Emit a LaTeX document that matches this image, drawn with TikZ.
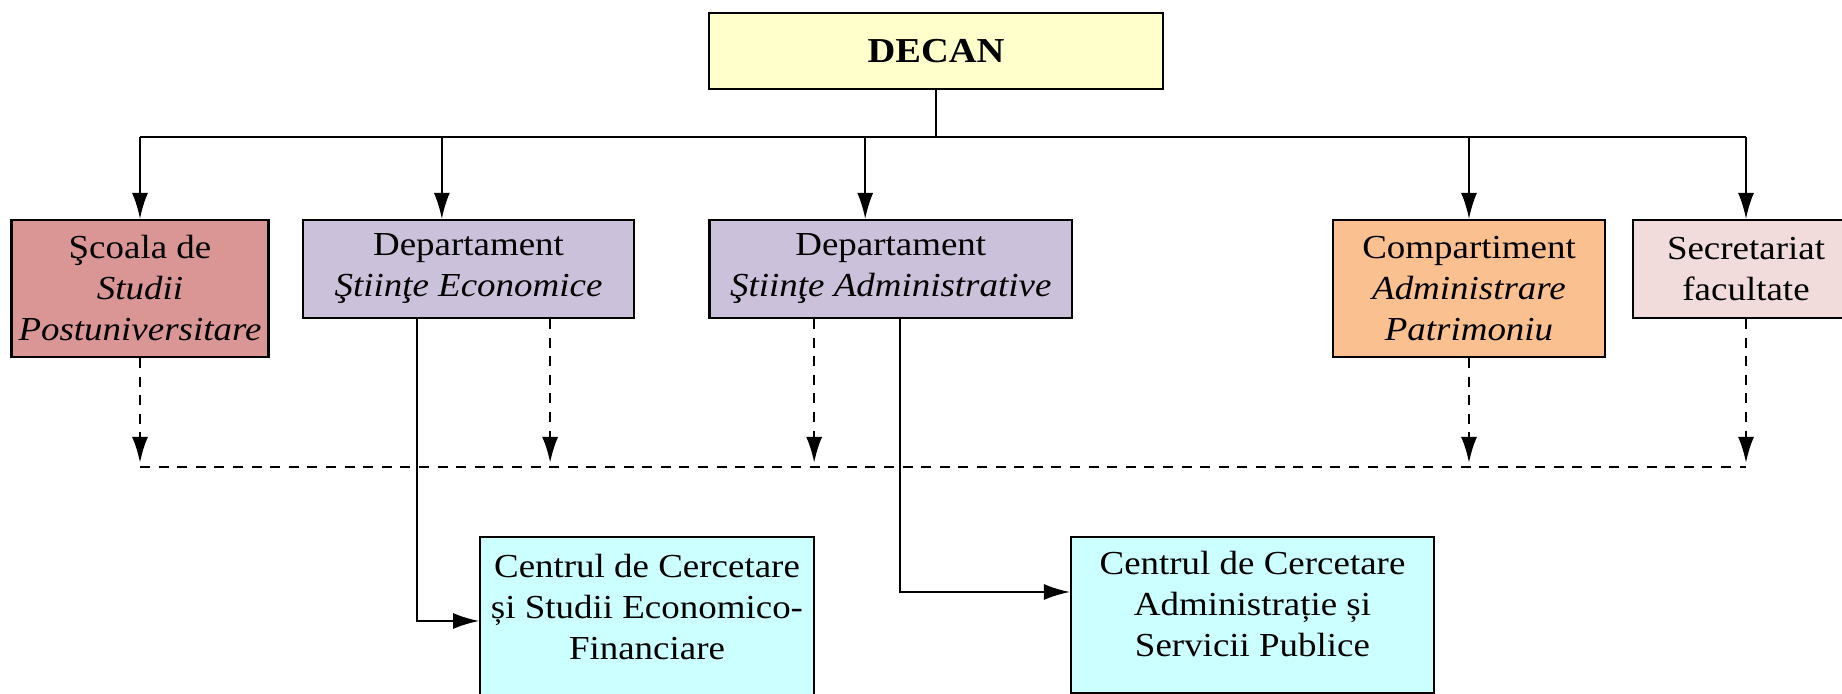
\documentclass[tikz,border=0pt]{standalone}
\usepackage{fontspec}
\setmainfont{Liberation Serif}[FakeStretch=1.1]
\usepackage{tikz}
\usetikzlibrary{positioning,arrows.meta,calc}

\definecolor{decanfill}{HTML}{FFFFCC}
\definecolor{scoalafill}{HTML}{D99694}
\definecolor{deptfill}{HTML}{CCC1DA}
\definecolor{compfill}{HTML}{FAC090}
\definecolor{secrfill}{HTML}{F2DCDB}
\definecolor{centrufill}{HTML}{CCFFFF}

\begin{document}
\begin{tikzpicture}[
x=0.5pt, y=-0.5pt,
box/.style={
  draw,
  line width=1.1pt,
  rectangle,
  align=center,
  inner sep=2pt,
  font=\fontsize{16.8}{20.5}\selectfont
  },
centru/.style={
  box,
  fill=centrufill,
  minimum width=166.75pt,
  minimum height=78pt,
  text depth=11pt
  },
link/.style={
  line width=1pt
  },
dashlink/.style={
  line width=1.3pt,
  dash pattern=on 5pt off 4.3pt
  },
>={Latex[length=13pt,width=8pt]}
]
\useasboundingbox (0,0) rectangle (1842,694);

\node[box, fill=decanfill, minimum width=227pt, minimum height=38pt,
  font=\fontsize{17.5}{20}\selectfont\bfseries] at (936,51)
  (decan) {DECAN};
\node[box, fill=scoalafill, minimum width=128.5pt, minimum height=68.5pt] at (140,288.5)
  (scoala) {Şcoala de\\ \textit{Studii}\\ \textit{Postuniversitare}};
\node[box, fill=deptfill, minimum width=165.5pt, minimum height=49pt] at (468.5,269)
  (deptse) {Departament\\ \textit{Ştiinţe Economice}};
\node[box, fill=deptfill, minimum width=181.25pt, minimum height=49pt] at (890.75,269)
  (deptsa) {Departament\\ \textit{Ştiinţe Administrative}};
\node[box, fill=compfill, minimum width=136pt, minimum height=68.5pt] at (1469,288.5)
  (comp) {Compartiment\\ \textit{Administrare}\\ \textit{Patrimoniu}};
\node[box, fill=secrfill, minimum width=113pt, minimum height=49pt] at (1746,269)
  (secr) {Secretariat\\ facultate};
\node[centru, minimum height=84pt, text depth=14pt] at (647,621)
  (cse) {Centrul de Cercetare\\ și Studii Economico-\\ Financiare};
\node[centru, minimum width=181.5pt] at (1252.5,615)
  (csa) {Centrul de Cercetare\\ Administrație și\\ Servicii Publice};

% bus from the dean
\coordinate (busL) at (140,137);
\coordinate (busR) at (1746,137);
\coordinate (dashL) at (140,467);
\coordinate (dashR) at (1746,467);
\coordinate (seIn) at ($(deptse.north west)!0.42!(deptse.north east)$);
\coordinate (saIn) at ($(deptsa.north west)!0.43!(deptsa.north east)$);
\coordinate (seDash) at ($(deptse.south west)!0.745!(deptse.south east)$);
\coordinate (saDash) at ($(deptsa.south west)!0.29!(deptsa.south east)$);
\coordinate (seOut) at ($(deptse.south west)!0.345!(deptse.south east)$);
\coordinate (saOut) at ($(deptsa.south west)!0.525!(deptsa.south east)$);
\coordinate (csaIn) at ([yshift=11.5pt]csa.west);

\draw[link] (decan) -- (decan |- busL);
\draw[link] (busL) -- (busR);
\draw[link,->] (busL) -- (scoala.north);
\draw[link,->] (seIn |- busL) -- (seIn);
\draw[link,->] (saIn |- busL) -- (saIn);
\draw[link,->] (comp.north |- busL) -- (comp.north);
\draw[link,->] (busR) -- (secr.north);

% coordination line
\draw[dashlink] (dashL) -- (dashR);
\foreach \src in {scoala.south, seDash, saDash, comp.south, secr.south}
  \draw[dashlink,->] (\src) -- ([yshift=2pt]\src |- dashL);

% research centres
\draw[link,->] (seOut) |- (cse.west);
\draw[link,->] (saOut) |- (csaIn);
\end{tikzpicture}
\end{document}
